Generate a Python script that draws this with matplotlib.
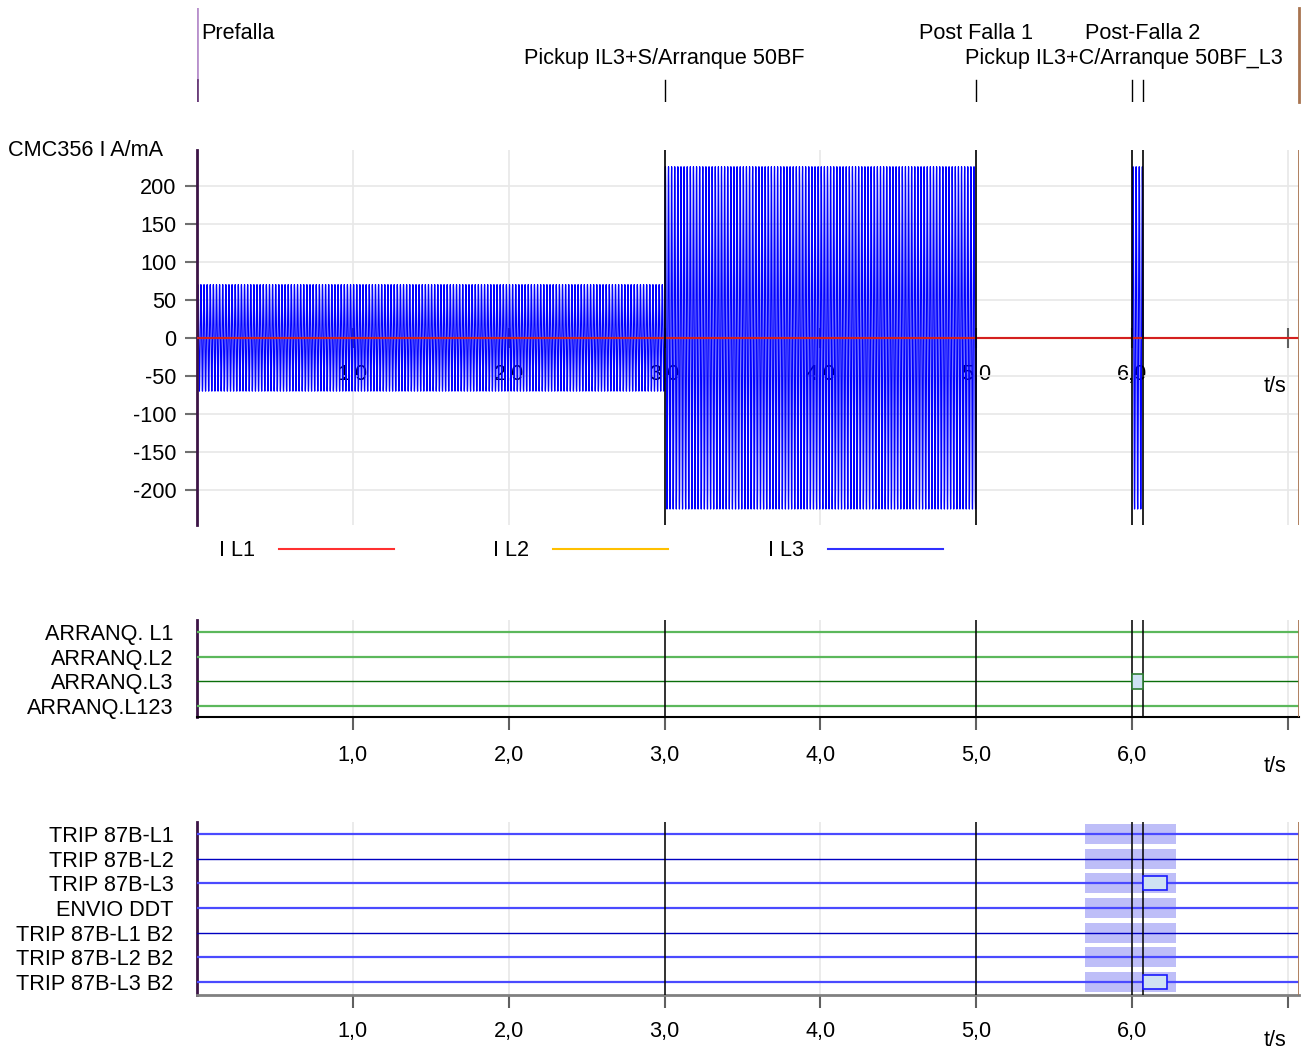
import numpy as np
import matplotlib
matplotlib.use("Agg")
import matplotlib.pyplot as plt
from matplotlib.lines import Line2D

plt.rcParams['font.family'] = ['Liberation Sans', 'DejaVu Sans']
plt.rcParams['font.size'] = 15.6
plt.rcParams['axes.unicode_minus'] = False

W, H = 1302, 1053

# ---- data ----
t_end = 7.07
grid_ticks = [1, 2, 3, 4, 5, 6, 7]
tick_labels = ['1,0', '2,0', '3,0', '4,0', '5,0', '6,0', '']

marker_times = [0.0, 3.0, 5.0, 6.0, 6.07]
marker_names = ['Prefalla', 'Pickup IL3+S/Arranque 50BF', 'Post Falla 1',
                'Pickup IL3+C/Arranque 50BF_L3', 'Post-Falla 2']

# I L3 sinusoid segments (start s, end s, peak A), 50 Hz
il3_start = [0.0, 3.0, 6.0]
il3_stop = [3.0, 5.0, 6.07]
il3_peak = [70.0, 225.0, 225.0]
f_hz = 50.0

y_ticks = [200, 150, 100, 50, 0, -50, -100, -150, -200]

arranq_names = ['ARRANQ. L1', 'ARRANQ.L2', 'ARRANQ.L3', 'ARRANQ.L123']
arranq_colors = ['#5cb85c', '#5cb85c', '#0a6e0a', '#5cb85c']
arranq_lw = [1.6, 1.6, 1.0, 1.6]
arranq_on_row = [2]
arranq_on_t = [(6.0, 6.07)]

trip_names = ['TRIP 87B-L1', 'TRIP 87B-L2', 'TRIP 87B-L3', 'ENVIO DDT',
              'TRIP 87B-L1 B2', 'TRIP 87B-L2 B2', 'TRIP 87B-L3 B2']
trip_colors = ['#4a4aff', '#0000c0', '#4a4aff', '#4a4aff', '#0000c0', '#4a4aff', '#4a4aff']
trip_lw = [1.6, 1.0, 1.6, 1.6, 1.0, 1.6, 1.6]
trip_on_row = [2, 6]
trip_on_t = [(6.07, 6.22), (6.07, 6.22)]
trip_shade = (5.70, 6.28)

# ---- build I L3 samples ----
t_parts, y_parts = [], []
for t0, t1, pk in zip(il3_start, il3_stop, il3_peak):
    t = np.arange(t0, t1, 1.0 / (f_hz * 40))
    t_parts.append(t)
    y_parts.append(pk * np.sin(2 * np.pi * f_hz * (t - t0)))
    t_parts.append(np.array([t1, t1]))
    y_parts.append(np.array([0.0, 0.0]))
t_il3 = np.concatenate([np.array([0.0])] + t_parts + [np.array([t_end])])
y_il3 = np.concatenate([np.array([0.0])] + y_parts + [np.array([0.0])])


def px_axes(fig, top, bottom, left=197, right=1299):
    return fig.add_axes([left / W, 1 - bottom / H, (right - left) / W, (bottom - top) / H])


def fig_text(fig, x, y, s, **kw):
    fig.text(x / W, 1 - y / H, s, **kw)


fig = plt.figure(figsize=(W / 100, H / 100), dpi=100)
purple = '#3c1446'
brown = '#a87450'

# ---- marker band ----
band = px_axes(fig, 8, 102)
band.set_xlim(0, t_end)
band.set_ylim(0, 1)
band.axis('off')
band.plot([0, 0], [0.234, 1], color='#b890cc', lw=2)
band.plot([0, 0], [0, 0.234], color='#6a3d7a', lw=2)
for tm in marker_times[1:]:
    band.plot([tm, tm], [0, 0.234], color='black', lw=1)
band.plot([t_end, t_end], [0, 1], color=brown, lw=2, clip_on=False)
row_a, row_b = 0.73, 0.465
band.text(0.03, row_a, marker_names[0], ha='left', va='center')
band.text(marker_times[1], row_b, marker_names[1], ha='center', va='center')
band.text(marker_times[2], row_a, marker_names[2], ha='center', va='center')
band.text(6.965, row_b, marker_names[3], ha='right', va='center')
band.text(marker_times[4], row_a, marker_names[4], ha='center', va='center')

# ---- analog panel ----
ax = px_axes(fig, 150, 525)
ax.set_xlim(0, t_end)
ax.set_ylim(-246, 247)
for s in ['top', 'right']:
    ax.spines[s].set_visible(False)
ax.spines['left'].set_color(purple)
ax.spines['left'].set_linewidth(2)
ax.spines['bottom'].set_position(('data', 0))
ax.spines['bottom'].set_color('none')
ax.set_yticks(y_ticks)
ax.set_xticks(grid_ticks)
ax.set_xticklabels(tick_labels)
ax.tick_params(axis='y', direction='out', length=9, width=1.5, color='#707070', pad=6)
ax.tick_params(axis='x', direction='inout', length=15, width=1.5, color='#606060', pad=11.5)
ax.grid(True, color='#e8e8e8', lw=1.2)
ax.set_axisbelow(True)
l3, = ax.plot(t_il3, y_il3, color='#0000ff', lw=0.9, zorder=2)
l2, = ax.plot([0, t_end], [0, 0], color='#ffc000', lw=1.5, zorder=2.5)
l1, = ax.plot([0, t_end], [0, 0], color='#d42020', lw=1.5, zorder=3)
for tm in marker_times[1:]:
    ax.axvline(tm, color='black', lw=1.2, zorder=4)
ax.axvline(t_end, color=brown, lw=2, zorder=4)
fig_text(fig, 8, 150, 'CMC356 I A/mA', ha='left', va='center')
fig_text(fig, 1275, 386, 't/s', ha='center', va='center')

legend_handles = [Line2D([], [], color='#ff3030', lw=1.5),
                  Line2D([], [], color='#ffc000', lw=1.5),
                  Line2D([], [], color='#3030ff', lw=1.5)]
fig.legend(legend_handles, ['I L1', 'I L2', 'I L3'], ncol=3, markerfirst=False,
           frameon=False, handlelength=5.3, handletextpad=1.1, columnspacing=4.6,
           borderpad=0, borderaxespad=0, loc='center left',
           bbox_to_anchor=(219 / W, 1 - 551 / H))


def binary_panel(top, bottom, names, colors, lws, first_row_px, spacing, bottom_color, bottom_lw, xpad):
    b = px_axes(fig, top, bottom)
    n = len(names)
    b.set_xlim(0, t_end)
    b.set_ylim(-(bottom - first_row_px) / spacing, (first_row_px - top) / spacing)
    for s in ['top', 'right']:
        b.spines[s].set_visible(False)
    b.spines['left'].set_color(purple)
    b.spines['left'].set_linewidth(2)
    b.spines['bottom'].set_color(bottom_color)
    b.spines['bottom'].set_linewidth(bottom_lw)
    b.set_yticks([-i for i in range(n)])
    b.set_yticklabels(names)
    b.tick_params(axis='y', length=0, pad=17)
    b.set_xticks(grid_ticks)
    b.set_xticklabels(tick_labels)
    b.tick_params(axis='x', direction='out', length=9, width=1.5, color='#606060', pad=xpad)
    b.grid(True, axis='x', color='#e8e8e8', lw=1.2)
    b.set_axisbelow(True)
    for i in range(n):
        b.plot([0, t_end], [-i, -i], color=colors[i], lw=lws[i], zorder=3)
    for tm in marker_times[1:]:
        b.axvline(tm, color='black', lw=1.1, zorder=4)
    b.axvline(t_end, color=brown, lw=2, zorder=4)
    return b


b1 = binary_panel(620, 717, arranq_names, arranq_colors, arranq_lw, 632, 24.6, 'black', 1.5, 10.8)
for row, (t0, t1) in zip(arranq_on_row, arranq_on_t):
    b1.barh(-row, t1 - t0, left=t0, height=0.62, color='#cfe2f3',
            edgecolor='#2e7d32', lw=1.2, zorder=5)
fig_text(fig, 1275, 766, 't/s', ha='center', va='center')

b2 = binary_panel(822, 995, trip_names, trip_colors, trip_lw, 834, 24.67, '#808080', 2, 10.0)
for i in range(len(trip_names)):
    b2.barh(-i, trip_shade[1] - trip_shade[0], left=trip_shade[0], height=0.81,
            color='#bebef8', lw=0, zorder=2)
for row, (t0, t1) in zip(trip_on_row, trip_on_t):
    b2.barh(-row, t1 - t0, left=t0, height=0.57, color='#cfe2f3',
            edgecolor='#1a1aff', lw=1.2, zorder=5)
fig_text(fig, 1275, 1041, 't/s', ha='center', va='center')

fig.savefig('out.png', dpi=100)
